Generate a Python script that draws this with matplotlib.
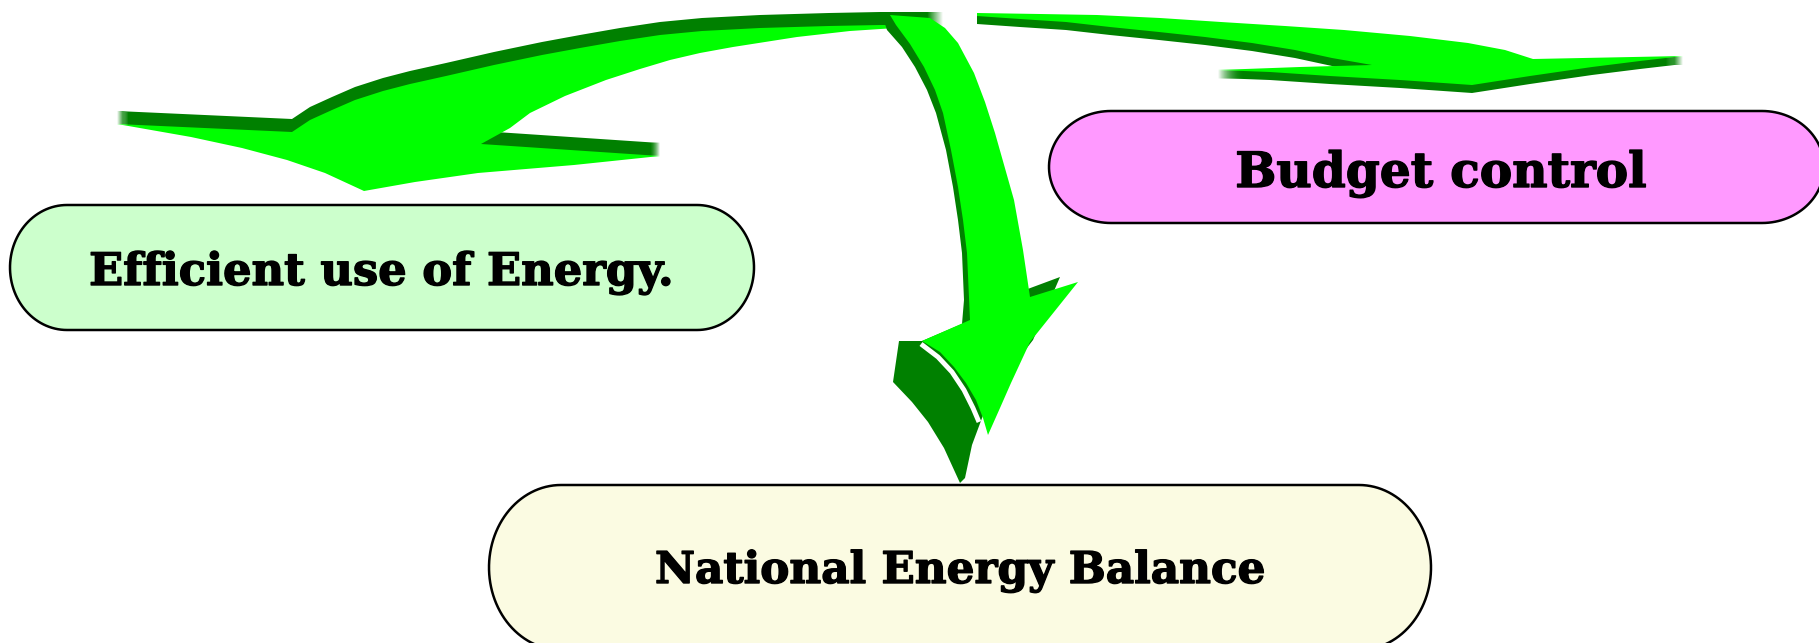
import numpy as np
import matplotlib
matplotlib.use("Agg")
import matplotlib.pyplot as plt
from matplotlib.patches import Polygon
import matplotlib.patheffects as pe

W, H = 1819, 643

# ---- labels / boxes -------------------------------------------------------
labels = ["Efficient use of Energy.", "Budget control", "National Energy Balance"]
box_x0 = [10, 1049, 489]
box_x1 = [754, 1824, 1431]
box_y0 = [205, 111, 485]
box_y1 = [330, 223, 650]
box_rx = [57, 62, 72]
box_colors = ["#CCFFCC", "#FF99FF", "#FBFBE2"]
text_cx = [381, 1441, 960]
text_base = [285, 187, 583]
text_width = [584, 411, 610]

# ---- arrow outlines (pixel coordinates of the picture) ---------------------
arrow1_face = [(943, 25), (880, 25), (829, 26), (760, 28), (702, 31), (660, 35),
               (620, 41), (580, 48), (542, 55), (494, 65), (446, 76),
               (410, 84), (383, 91), (355, 100), (332, 110), (310, 120),
               (292, 132), (117, 124), (191, 137), (242, 148), (287, 160),
               (325, 173), (364, 191), (415, 182), (478, 173), (574, 165),
               (660, 156), (481, 144), (510, 128), (530, 113), (565, 96),
               (606, 80), (640, 69), (670, 60), (700, 53), (733, 47),
               (797, 37), (850, 31), (896, 28)]
arrow1_depth = 13  # extrusion upwards

arrow3_face = [(977, 13), (1040, 14), (1097, 15), (1160, 18), (1221, 22),
               (1285, 26), (1344, 30), (1410, 36), (1468, 43), (1505, 50),
               (1533, 59), (1683, 56), (1640, 61), (1592, 67), (1530, 76),
               (1472, 85), (1400, 80), (1330, 76), (1270, 72), (1218, 70),
               (1300, 67), (1372, 65), (1332, 58), (1295, 50), (1252, 43),
               (1205, 37), (1159, 32), (1110, 27), (1066, 22), (1020, 19),
               (977, 16)]
arrow3_depth = 8  # extrusion downwards

arrow2_face = [(890, 15), (896, 25), (910, 44), (924, 67), (935, 90),
               (943, 113), (951, 150), (958, 187), (963, 220), (967, 253),
               (970, 320), (922, 341), (940, 352), (954, 367), (966, 383),
               (976, 400), (983, 418), (988, 435), (1000, 408), (1011, 383),
               (1030, 342), (1078, 282), (1030, 297), (1023, 250),
               (1014, 200), (995, 133), (985, 102), (974, 73), (958, 43),
               (945, 28), (930, 18)]
arrow2_dark = [(882, 15), (887, 30), (902, 47), (915, 67), (927, 90),
               (936, 113), (946, 150), (953, 187), (958, 220), (962, 253),
               (964, 300), (962, 324), (922, 341), (899, 341), (893, 382),
               (912, 402), (928, 422), (944, 448), (960, 483), (965, 478),
               (972, 445), (985, 410), (1010, 370), (1033, 340), (1060, 277),
               (1025, 290), (1018, 250), (1009, 200), (990, 133),
               (969, 73), (953, 43), (925, 18)]
arrow2_highlight = [(921, 344), (938, 357), (952, 372), (964, 390), (973, 408),
                    (979, 422)]

LIGHT = "#00FF00"
DARK = "#008000"

fig = plt.figure(figsize=(W / 100, H / 100), dpi=100)
ax = fig.add_axes([0, 0, 1, 1])
ax.set_xlim(0, W)
ax.set_ylim(H, 0)
ax.set_aspect("equal")
ax.axis("off")


def extruded(face, depth, z):
    steps = max(2, abs(depth))
    for i in range(1, steps + 1):
        dy = depth * i / steps
        pts = [(x, y + dy) for x, y in face]
        ax.add_patch(Polygon(pts, closed=True, facecolor=DARK, edgecolor="none", zorder=z))
    ax.add_patch(Polygon(face, closed=True, facecolor=LIGHT, edgecolor="none", zorder=z + 0.5))


def capsule(x0, x1, y0, y1, rx):
    ry = (y1 - y0) / 2.0
    cy = (y0 + y1) / 2.0
    t = np.linspace(-np.pi / 2, np.pi / 2, 60)
    right = np.column_stack([x1 - rx + rx * np.cos(t), cy + ry * np.sin(t)])
    left = np.column_stack([x0 + rx - rx * np.cos(t), cy - ry * np.sin(t)])
    return np.vstack([right, left])


# arrows
extruded(arrow1_face, -arrow1_depth, 2)
extruded(arrow3_face, arrow3_depth, 2)
ax.add_patch(Polygon(arrow2_dark, closed=True, facecolor=DARK, edgecolor="none", zorder=4))
ax.add_patch(Polygon(arrow2_face, closed=True, facecolor=LIGHT, edgecolor="none", zorder=4.5))
hx, hy = zip(*arrow2_highlight)
ax.plot(hx, hy, color="white", lw=3.5, solid_capstyle="butt", zorder=4.4)

# boxes
for x0, x1, y0, y1, rx, c in zip(box_x0, box_x1, box_y0, box_y1, box_rx, box_colors):
    ax.add_patch(Polygon(capsule(x0, x1, y0, y1, rx), closed=True,
                         facecolor=c, edgecolor="black", lw=1.8, zorder=3))

fig.canvas.draw()
renderer = fig.canvas.get_renderer()
for lab, cx, by, tw in zip(labels, text_cx, text_base, text_width):
    t = ax.text(cx, by, lab, ha="center", va="baseline", fontsize=30,
                fontweight="bold", family="DejaVu Serif", color="black", zorder=6)
    w = t.get_window_extent(renderer).width
    t.set_fontsize(30 * tw / w)
    t.set_path_effects([pe.withStroke(linewidth=1.0, foreground="black")])

fig.savefig("out.png", dpi=100, facecolor="white")
